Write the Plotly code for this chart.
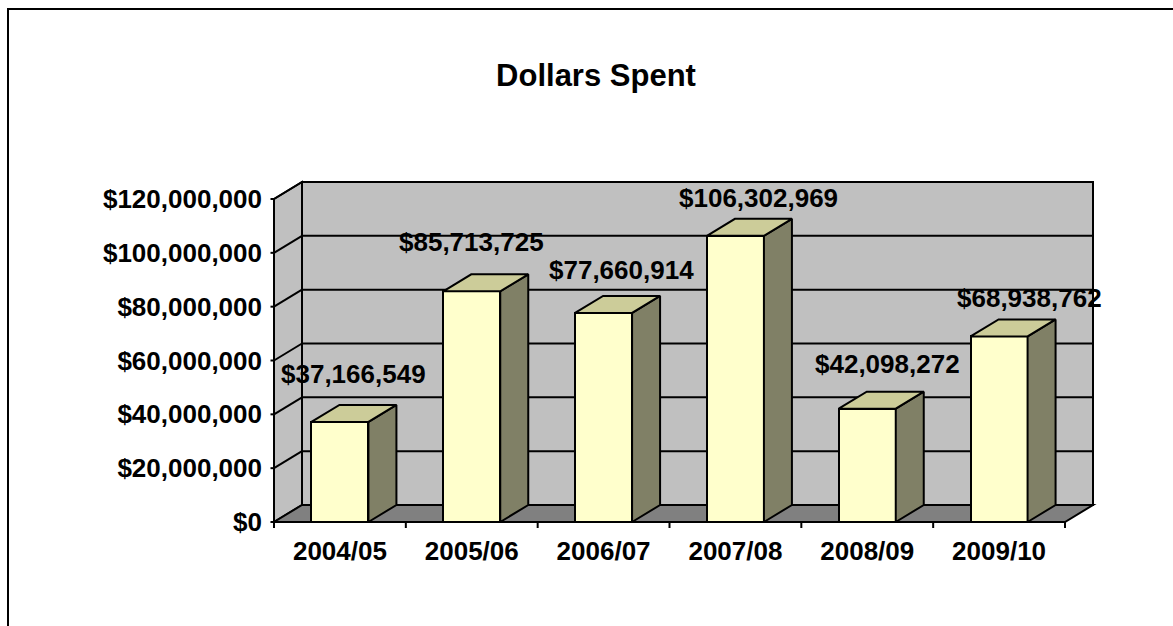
import plotly.graph_objects as go

# ---- data ----
seasons = ["2004/05", "2005/06", "2006/07", "2007/08", "2008/09", "2009/10"]
dollars = [37166549, 85713725, 77660914, 106302969, 42098272, 68938762]
y_ticks = [0, 20000000, 40000000, 60000000, 80000000, 100000000, 120000000]

# ---- page / plot geometry (pixels) ----
W, H = 1173, 626
PLOT_L, PLOT_R, PLOT_T, PLOT_B = 266, 1100, 175, 530
X0_PX = 274                      # left edge of first category (front plane)
CAT_W_PX = (1065 - 274) / 6      # category width on the front plane
Y0_PX = 522                      # $0 on the front plane
PX_PER_DOLLAR = 323 / 120e6
DEPTH_X_PX, DEPTH_Y_PX = 28, 17  # oblique depth of the 3-D box
BAR_W_PX = 57

x_range = [(PLOT_L - X0_PX) / CAT_W_PX, (PLOT_R - X0_PX) / CAT_W_PX]
y_range = [-(PLOT_B - Y0_PX) / PX_PER_DOLLAR, (Y0_PX - PLOT_T) / PX_PER_DOLLAR]
dx = DEPTH_X_PX / CAT_W_PX
dy = DEPTH_Y_PX / PX_PER_DOLLAR
hw = BAR_W_PX / CAT_W_PX / 2
n = len(seasons)
ymax = y_ticks[-1]

FONT = "Liberation Sans, Arial, sans-serif"
WALL = "#C0C0C0"
FLOOR = "#808080"
FRONT = "#FFFFCC"
TOP = "#CCCC99"
SIDE = "#808066"
EDGE = dict(color="black", width=2)

# per-label pixel nudges (x, y) for the value labels
label_nudge = [(0, 5), (-14, 6), (4, 0), (9, -5), (6, 2), (16, -5)]


def poly(pts):
    return "M " + " L ".join(f"{x},{y}" for x, y in pts) + " Z"


shapes = []
# back wall
shapes.append(dict(type="path", xref="x", yref="y", layer="below",
                   path=poly([(dx, dy), (n + dx, dy), (n + dx, ymax + dy), (dx, ymax + dy)]),
                   fillcolor=WALL, line=EDGE))
# left side wall
shapes.append(dict(type="path", xref="x", yref="y", layer="below",
                   path=poly([(0, 0), (0, ymax), (dx, ymax + dy), (dx, dy)]),
                   fillcolor=WALL, line=EDGE))
# floor
shapes.append(dict(type="path", xref="x", yref="y", layer="below",
                   path=poly([(0, 0), (n, 0), (n + dx, dy), (dx, dy)]),
                   fillcolor=FLOOR, line=EDGE))
# gridlines on back wall and left wall
for t in y_ticks[1:]:
    shapes.append(dict(type="line", xref="x", yref="y", layer="below",
                       x0=dx, y0=t + dy, x1=n + dx, y1=t + dy, line=EDGE))
    shapes.append(dict(type="line", xref="x", yref="y", layer="below",
                       x0=0, y0=t, x1=dx, y1=t + dy, line=EDGE))
# y-axis tick marks
for t in y_ticks:
    shapes.append(dict(type="line", xref="x", yref="y", layer="above",
                       x0=-3.5 / CAT_W_PX, y0=t, x1=0, y1=t, line=EDGE))
# x-axis tick marks at category boundaries
for i in range(n + 1):
    shapes.append(dict(type="line", xref="x", yref="y", layer="above",
                       x0=i, y0=0, x1=i, y1=-6 / PX_PER_DOLLAR, line=EDGE))


# outer chart frame
def px_to_paper(px, py):
    return (px - PLOT_L) / (PLOT_R - PLOT_L), (PLOT_B - py) / (PLOT_B - PLOT_T)


fx0, fy0 = px_to_paper(8, 700)
fx1, fy1 = px_to_paper(8, 9)
fx2, fy2 = px_to_paper(1250, 9)
shapes.append(dict(type="path", xref="paper", yref="paper", layer="above",
                   path=f"M {fx0},{fy0} L {fx1},{fy1} L {fx2},{fy2}",
                   line=EDGE))

fig = go.Figure()

centers = [i + 0.5 for i in range(n)]

# front faces of the bars
fig.add_trace(go.Bar(x=centers, y=dollars, width=2 * hw, base=0,
                     marker=dict(color=FRONT, line=EDGE),
                     hoverinfo="skip", showlegend=False))

# side and top faces of the bars
for c, v in zip(centers, dollars):
    side = [(c + hw, 0), (c + hw, v), (c + hw + dx, v + dy), (c + hw + dx, dy), (c + hw, 0)]
    top = [(c - hw, v), (c + hw, v), (c + hw + dx, v + dy), (c - hw + dx, v + dy), (c - hw, v)]
    for pts, col in ((side, SIDE), (top, TOP)):
        fig.add_trace(go.Scatter(x=[p[0] for p in pts], y=[p[1] for p in pts],
                                 mode="lines", fill="toself", fillcolor=col,
                                 line=EDGE, hoverinfo="skip", showlegend=False))

# value labels
annotations = []
for c, v, (nx, ny) in zip(centers, dollars, label_nudge):
    annotations.append(dict(x=c + dx / 2, y=v + dy, xref="x", yref="y",
                            text=f"${v:,}", showarrow=False,
                            xanchor="center", yanchor="middle",
                            xshift=nx, yshift=26 + ny,
                            font=dict(family=FONT, size=26, color="black", weight="bold")))

fig.update_layout(
    width=W, height=H,
    margin=dict(l=PLOT_L, r=W - PLOT_R, t=PLOT_T, b=H - PLOT_B, pad=0),
    paper_bgcolor="white", plot_bgcolor="white",
    title=dict(text="Dollars Spent", x=596 / W, xref="container", xanchor="center",
               y=1 - 75 / H, yref="container", yanchor="middle",
               font=dict(family=FONT, size=31, color="black", weight="bold")),
    shapes=shapes,
    annotations=annotations,
    showlegend=False,
    bargap=0,
    xaxis=dict(range=x_range, showgrid=False, zeroline=False, showline=False,
               tickmode="array", tickvals=centers, ticktext=seasons, ticks="",
               ticklabelstandoff=3,
               tickfont=dict(family=FONT, size=26, color="black", weight="bold"),
               fixedrange=True),
    yaxis=dict(range=y_range, showgrid=False, zeroline=False, showline=False,
               tickmode="array", tickvals=y_ticks,
               ticktext=[f"${t:,}" for t in y_ticks], ticks="",
               ticklabelstandoff=3,
               tickfont=dict(family=FONT, size=26, color="black", weight="bold"),
               fixedrange=True),
)

fig.write_html("out.html")
